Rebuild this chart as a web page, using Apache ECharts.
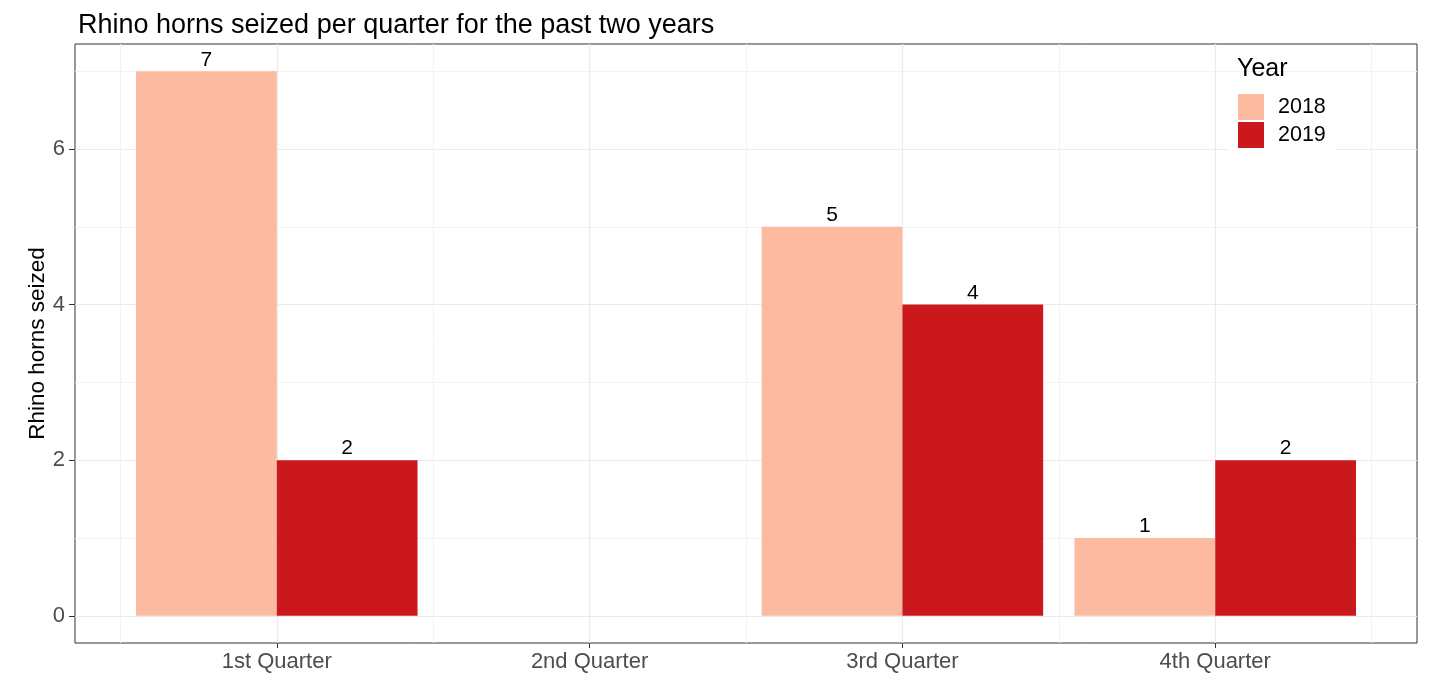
<!DOCTYPE html>
<html>
<head>
<meta charset="utf-8">
<script src="https://cdn.jsdelivr.net/npm/echarts@6/dist/echarts.min.js"></script>
<style>
html,body{margin:0;padding:0;background:#fff;}
#chart{width:1432px;height:674px;}
</style>
</head>
<body>
<div id="chart"></div>
<script>
// ---- data ----
const categories = ['1st Quarter', '2nd Quarter', '3rd Quarter', '4th Quarter'];
const years = ['2018', '2019'];
const values2018 = [7, null, 5, 1];
const values2019 = [2, null, 4, 2];
const yTicks = [0, 2, 4, 6];
const yMinorTicks = [1, 3, 5, 7];
const xPositions = [1, 2, 3, 4];
const xMinor = [0.5, 1.5, 2.5, 3.5, 4.5];

const colors = {'2018': '#FCBBA1', '2019': '#CB181D'};
const FONT = "'Liberation Sans', Arial, sans-serif";
const dodge = 0.45;

function seriesData(vals) {
  return vals.map((v, i) => [xPositions[i], v]);
}

function makeRender(side, color) {
  return function (params, api) {
    const v = api.value(1);
    if (v === null || v === undefined || isNaN(v)) return null;
    const x = api.value(0);
    const x0 = side === 0 ? x - dodge : x;
    const x1 = side === 0 ? x : x + dodge;
    const pTop = api.coord([x0, v]);
    const pBot = api.coord([x1, 0]);
    const mid = api.coord([(x0 + x1) / 2, v]);
    return {
      type: 'group',
      children: [
        {
          type: 'rect',
          shape: {x: pTop[0], y: pTop[1], width: pBot[0] - pTop[0], height: pBot[1] - pTop[1]},
          style: {fill: color}
        },
        {
          type: 'text',
          x: mid[0],
          y: mid[1] - 1,
          style: {text: String(v), fill: '#000', font: '21px ' + FONT, align: 'center', verticalAlign: 'bottom'}
        }
      ]
    };
  };
}

const chart = echarts.init(document.getElementById('chart'), null, {renderer: 'canvas'});
const option = {
  backgroundColor: '#fff',
  animation: false,
  title: {
    text: 'Rhino horns seized per quarter for the past two years',
    left: 73, top: 7,
    textStyle: {fontFamily: FONT, fontSize: 27, fontWeight: 'normal', color: '#000'}
  },
  legend: {
    data: years,
    orient: 'vertical',
    left: 1228, top: 90,
    padding: [4, 10, 4, 10],
    backgroundColor: '#fff',
    itemWidth: 26, itemHeight: 26, itemGap: 2,
    icon: 'rect',
    textStyle: {fontFamily: FONT, fontSize: 21.5, color: '#000', padding: [0, 0, 0, 9]}
  },
  graphic: [{
    type: 'text', left: 1237, top: 57, z: 100,
    style: {text: 'Year', font: '25px ' + FONT, fill: '#000'}
  }],
  grid: {
    left: 75, right: 15, top: 44, bottom: 31,
    show: true, borderColor: '#333', borderWidth: 1, backgroundColor: 'transparent'
  },
  xAxis: [{
    type: 'value', min: 0.355, max: 4.645, position: 'bottom',
    axisLine: {show: false, onZero: false},
    axisTick: {show: true, customValues: xPositions, length: 5, lineStyle: {color: '#333'}},
    axisLabel: {customValues: xPositions, margin: 8, fontFamily: FONT, fontSize: 22, color: '#4D4D4D',
      formatter: v => categories[Math.round(v) - 1]},
    splitLine: {show: true, lineStyle: {color: '#EBEBEB', width: 1.2}}
  }, {
    type: 'value', min: 0.355, max: 4.645, position: 'top',
    axisLine: {show: false, onZero: false},
    axisTick: {show: false, customValues: xMinor},
    axisLabel: {show: false, customValues: xMinor},
    splitLine: {show: true, lineStyle: {color: '#F2F2F2', width: 1}}
  }],
  yAxis: [{
    type: 'value', min: -0.35, max: 7.35, position: 'left',
    name: 'Rhino horns seized', nameLocation: 'middle', nameRotate: 90, nameGap: 26,
    nameMoveOverlap: false,
    nameTextStyle: {fontFamily: FONT, fontSize: 22.5, color: '#000'},
    axisLine: {show: false, onZero: false},
    axisTick: {show: true, customValues: yTicks, length: 6, lineStyle: {color: '#333'}},
    axisLabel: {customValues: yTicks, margin: 10, fontFamily: FONT, fontSize: 22, color: '#4D4D4D'},
    splitLine: {show: true, lineStyle: {color: '#EBEBEB', width: 1.2}}
  }, {
    type: 'value', min: -0.35, max: 7.35, position: 'right',
    axisLine: {show: false, onZero: false},
    axisTick: {show: false, customValues: yMinorTicks},
    axisLabel: {show: false, customValues: yMinorTicks},
    splitLine: {show: true, lineStyle: {color: '#F2F2F2', width: 1}}
  }],
  series: [{
    name: '2018', type: 'custom', xAxisIndex: 0, yAxisIndex: 0,
    itemStyle: {color: colors['2018']},
    renderItem: makeRender(0, colors['2018']),
    encode: {x: 0, y: 1},
    data: seriesData(values2018)
  }, {
    name: '2019', type: 'custom', xAxisIndex: 0, yAxisIndex: 0,
    itemStyle: {color: colors['2019']},
    renderItem: makeRender(1, colors['2019']),
    encode: {x: 0, y: 1},
    data: seriesData(values2019)
  }]
};
chart.setOption(option);
</script>
</body>
</html>
